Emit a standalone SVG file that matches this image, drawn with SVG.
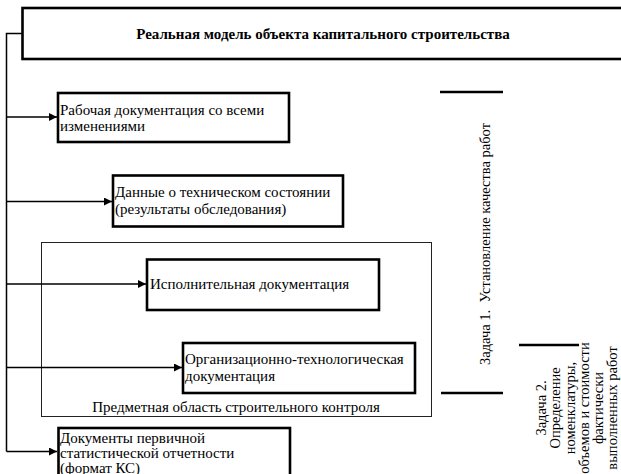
<svg xmlns="http://www.w3.org/2000/svg" width="621" height="474" viewBox="0 0 621 474" font-family="'Liberation Serif', 'DejaVu Serif', serif">
<defs>
<style>
.box{fill:#fff;stroke:#000;stroke-width:2.6}
.frame{fill:none;stroke:#222;stroke-width:1}
.conn{fill:none;stroke:#000;stroke-width:1.5}
.bar{stroke:#000;stroke-width:2.6}
.t{font-size:15px;fill:#000}
.v{font-size:14.5px;fill:#000}
.title{font-size:15px;font-weight:bold;fill:#000}
</style>
<marker id="arr" viewBox="0 0 10 10" refX="10" refY="5" markerWidth="8" markerHeight="8" markerUnits="userSpaceOnUse" orient="auto">
<path d="M0,0 L10,5 L0,10 Z" fill="#000"/>
</marker>
</defs>
<rect width="621" height="474" fill="#fff"/>
<g id="domain">
<rect class="frame" x="41.5" y="242.5" width="390" height="174"/>
<text class="t" x="236" y="411.5" text-anchor="middle">Предметная область строительного контроля</text>
</g>
<g id="connectors">
<path class="conn" d="M22,33.5 H6.5 V451.5"/>
<path class="conn" d="M6.5,117 H57" marker-end="url(#arr)"/>
<path class="conn" d="M6.5,201.5 H112" marker-end="url(#arr)"/>
<path class="conn" d="M6.5,284 H146" marker-end="url(#arr)"/>
<path class="conn" d="M6.5,367.5 H182" marker-end="url(#arr)"/>
<path class="conn" d="M6.5,451.5 H57" marker-end="url(#arr)"/>
</g>
<g id="top">
<rect class="box" x="22.5" y="8" width="620" height="51"/>
<text class="title" x="323" y="38.5" text-anchor="middle">Реальная модель объекта капитального строительства</text>
</g>
<g id="n1">
<rect class="box" x="58" y="93" width="231" height="49"/>
<text class="t" x="60" y="115">Рабочая документация со всеми</text>
<text class="t" x="60" y="131">изменениями</text>
</g>
<g id="n2">
<rect class="box" x="113" y="175.5" width="230" height="51"/>
<text class="t" x="115" y="197">Данные о техническом состоянии</text>
<text class="t" x="115" y="214">(результаты обследования)</text>
</g>
<g id="n3">
<rect class="box" x="147" y="259.5" width="232" height="50.5"/>
<text class="t" x="150" y="289">Исполнительная документация</text>
</g>
<g id="n4">
<rect class="box" x="183" y="343" width="232" height="50"/>
<text class="t" x="185" y="363.5">Организационно-технологическая</text>
<text class="t" x="185" y="380.5">документация</text>
</g>
<g id="n5">
<rect class="box" x="58.5" y="428" width="231.5" height="60"/>
<text class="t" x="60" y="443">Документы первичной</text>
<text class="t" x="60" y="458">статистической отчетности</text>
<text class="t" x="60" y="473">(формат КС)</text>
</g>
<g id="task1">
<line class="bar" x1="440" y1="92" x2="503" y2="92"/>
<line class="bar" x1="441" y1="393" x2="503" y2="393"/>
<text class="v" transform="translate(490,244) rotate(-90)" text-anchor="middle" xml:space="preserve">Задача 1.  Установление качества работ</text>
</g>
<g id="task2">
<line class="bar" x1="519" y1="345" x2="579" y2="345"/>
<text class="v" text-anchor="middle" transform="translate(545.5,408) rotate(-90)">Задача 2.</text>
<text class="v" text-anchor="middle" transform="translate(560,408) rotate(-90)">Определение</text>
<text class="v" text-anchor="middle" transform="translate(574.5,408) rotate(-90)">номенклатуры,</text>
<text class="v" text-anchor="middle" transform="translate(589,408) rotate(-90)">объемов и стоимости</text>
<text class="v" text-anchor="middle" transform="translate(603,408) rotate(-90)">фактически</text>
<text class="v" text-anchor="middle" transform="translate(616.5,408) rotate(-90)">выполненных работ</text>
</g>
</svg>
